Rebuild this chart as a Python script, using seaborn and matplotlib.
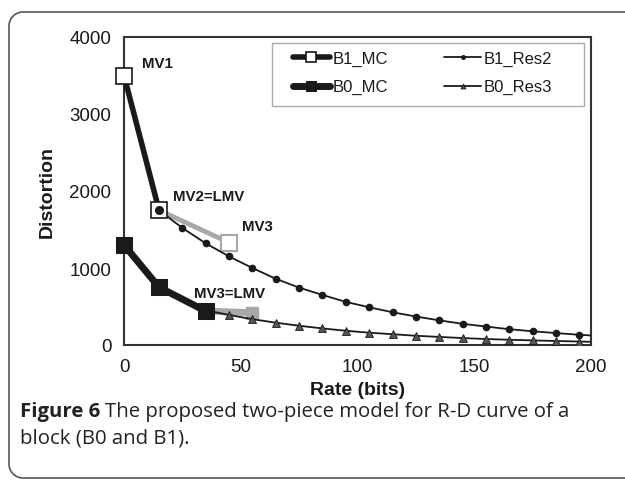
import matplotlib
matplotlib.use("Agg")
import numpy as np
import pandas as pd
import matplotlib.pyplot as plt
import seaborn as sns
from matplotlib.patches import Rectangle
from matplotlib.lines import Line2D

# Datos
b1_mc_rate = [0, 15, 45]
b1_mc_dist = [3500, 1750, 1330]
b0_mc_rate = [0, 15, 35, 55]
b0_mc_dist = [1300, 750, 440, 420]

res_rate = [15, 25, 35, 45, 55, 65, 75, 85, 95, 105, 115, 125, 135, 145, 155, 165, 175, 185, 195, 205]
b1_res2 = [1750, 1520, 1320, 1150, 1000, 860, 745, 650, 560, 490, 425, 370, 320, 275, 240, 205, 178, 155, 133, 115]
b0_res3_rate = res_rate[2:]
b0_res3 = [450, 390, 335, 290, 250, 215, 185, 160, 140, 120, 105, 90, 78, 68, 60, 52, 45, 38]

labels = ["MV1", "MV2=LMV", "MV3", "MV3=LMV"]
label_x = [7.5, 21, 50.5, 30]
label_y = [3665, 1935, 1540, 670]

sns.set_theme(style="white")
plt.rcParams['font.family'] = ['Liberation Sans', 'DejaVu Sans']

negro = '#1a1a1a'
gris = '#a8a8a8'
W, H = 625, 481

fig = plt.figure(figsize=(6.25, 4.81), dpi=100)
ax = fig.add_axes([124/W, 1-346/H, (591-124)/W, (346-38)/H])

# marco de la figura: lado izquierdo, arriba y abajo con esquinas redondeadas (en pixeles)
r = 14
a1 = np.linspace(np.pi/2, np.pi, 12)
a2 = np.linspace(np.pi, 1.5*np.pi, 12)
mx = np.concatenate([[W + 5], 9 + r + r*np.cos(a1), 9 + r + r*np.cos(a2), [W + 5]])
my = np.concatenate([[13], 13 + r - r*np.sin(a1), 479 - r - r*np.sin(a2), [479]])
fig.add_artist(Line2D(mx/W, 1 - my/H, transform=fig.transFigure, color='#555555', linewidth=1.2))

# Residuos
sns.lineplot(x=res_rate, y=b1_res2, color=negro, marker='o', markersize=5.5, markeredgewidth=0,
             linewidth=1.3, sort=False, ax=ax, label='B1_Res2', zorder=4)
sns.lineplot(x=b0_res3_rate, y=b0_res3, color=negro, marker='^', markersize=5.5,
             markerfacecolor='#555555', markeredgecolor=negro, markeredgewidth=0.6,
             linewidth=1.3, sort=False, ax=ax, label='B0_Res3', zorder=4)

# Tramos grises (segunda pieza)
sns.lineplot(x=b1_mc_rate[1:], y=b1_mc_dist[1:], color=gris, linewidth=3.5, sort=False, ax=ax,
             legend=False, zorder=3)
ax.plot(b1_mc_rate[2], b1_mc_dist[2], 's', markersize=11, markerfacecolor='white',
        markeredgecolor=gris, markeredgewidth=1.5, zorder=3)
sns.lineplot(x=b0_mc_rate[2:], y=b0_mc_dist[2:], color=gris, linewidth=5, sort=False, ax=ax,
             legend=False, zorder=3)
ax.plot(b0_mc_rate[3], b0_mc_dist[3], 's', markersize=9, color=gris, zorder=3)

# Tramos negros (MC)
sns.lineplot(x=b1_mc_rate[:2], y=b1_mc_dist[:2], color=negro, linewidth=4, marker='s', markersize=11,
             markerfacecolor='white', markeredgecolor=negro, markeredgewidth=1.2,
             sort=False, ax=ax, label='B1_MC', zorder=5, clip_on=False)
sns.lineplot(x=b0_mc_rate[:3], y=b0_mc_dist[:3], color=negro, linewidth=5, marker='s', markersize=11,
             markerfacecolor=negro, markeredgecolor=negro, sort=False, ax=ax, label='B0_MC',
             zorder=5, clip_on=False)
# circulo del residuo encima del cuadro MV2
ax.plot(res_rate[0], b1_res2[0], 'o', color=negro, markersize=5.5, zorder=6)

for t, x, y in zip(labels, label_x, label_y):
    ax.text(x, y, t, fontsize=10.8, fontweight='bold', color=negro, va='center', ha='left')

ax.set_xlim(0, 200)
ax.set_ylim(0, 4000)
ax.set_xticks([0, 50, 100, 150, 200])
ax.set_yticks([0, 1000, 2000, 3000, 4000])
ax.tick_params(axis='both', direction='out', length=5, width=0.8, color='#888888',
               labelsize=13.5, labelcolor=negro, pad=4)
for s in ax.spines.values():
    s.set_color('#333333')
    s.set_linewidth(1.5)
ax.set_xlabel('Rate (bits)', fontsize=14, fontweight='bold', color=negro, labelpad=5)
ax.set_ylabel('Distortion', fontsize=14, fontweight='bold', color=negro, labelpad=10)

# leyenda: marco dibujado aparte para igualar el relleno de Excel
ax.add_patch(Rectangle((148/467, 239/308), 312/467, 63/308, transform=ax.transAxes, fill=False,
                       edgecolor='#aaaaaa', linewidth=1.0, zorder=6))
h, l = ax.get_legend_handles_labels()
orden = ['B1_MC', 'B0_MC', 'B1_Res2', 'B0_Res3']
hd = dict(zip(l, h))
leg = ax.legend([hd[k] for k in orden], orden, ncol=2, loc='upper left', bbox_to_anchor=(169/467, 0.955),
                fontsize=12, frameon=False, handlelength=2.2, borderpad=0, borderaxespad=0,
                handletextpad=0.15, columnspacing=3.4, labelspacing=0.8, markerscale=0.65)
for txt in leg.get_texts():
    txt.set_color(negro)

# pie de figura
cap_font = ['Open Sans', 'DejaVu Sans']
t1 = fig.text(20/W, 1-412/H, 'Figure 6', fontsize=14.7, fontweight='bold', family=cap_font,
              color='#222222', va='center')
fig.canvas.draw()
bb = t1.get_window_extent(renderer=fig.canvas.get_renderer())
fig.text(bb.x1/W + 5/W, 1-412/H, 'The proposed two-piece model for R-D curve of a', fontsize=14.7,
         family=cap_font, color='#222222', va='center')
fig.text(20/W, 1-439/H, 'block (B0 and B1).', fontsize=14.7, family=cap_font,
         color='#222222', va='center')

plt.savefig('out.png', dpi=100)
